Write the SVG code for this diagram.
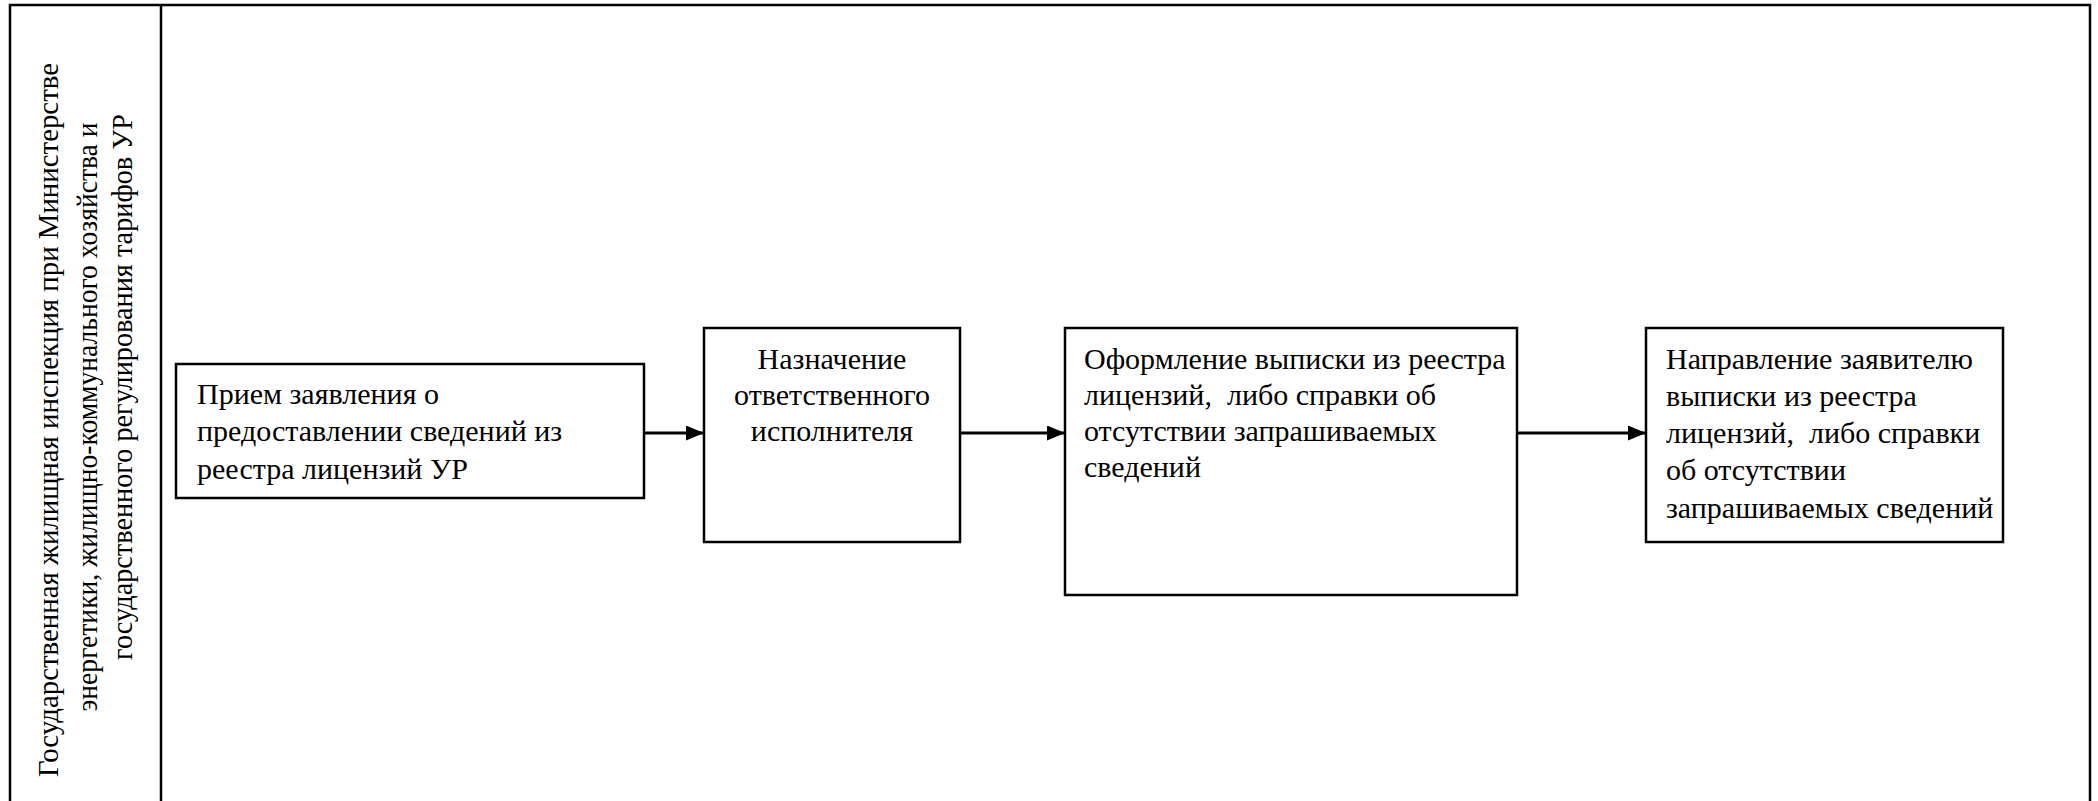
<svg xmlns="http://www.w3.org/2000/svg" width="2098" height="801" viewBox="0 0 2098 801">
<style>
.frame{fill:none;stroke:#000;stroke-width:2.5}
.box{fill:#fff;stroke:#000;stroke-width:2.5}
.conn{stroke:#000;stroke-width:3;fill:none}
.t{font-family:"Liberation Serif","Times New Roman",serif;font-size:30px;fill:#000}
</style>
<defs>
<marker id="ah" markerWidth="18" markerHeight="15" refX="18" refY="7.5" orient="auto" markerUnits="userSpaceOnUse">
<path d="M0,0 L18,7.5 L0,15 Z" fill="#000"/>
</marker>
</defs>
<rect width="2098" height="801" fill="#fff"/>
<g class="t">
<g id="lane">
<path class="frame" d="M10,805 V5 H2090 V805"/>
<line class="frame" x1="161" y1="5" x2="161" y2="805"/>
<text transform="translate(58,420) rotate(-90)" text-anchor="middle" textLength="714" lengthAdjust="spacingAndGlyphs">Государственная жилищная инспекция при Министерстве</text>
<text transform="translate(97,417) rotate(-90)" text-anchor="middle" textLength="589" lengthAdjust="spacingAndGlyphs">энергетики, жилищно-коммунального хозяйства и</text>
<text transform="translate(132,387) rotate(-90)" text-anchor="middle" textLength="546" lengthAdjust="spacingAndGlyphs">государственного регулирования тарифов УР</text>
</g>
<g id="n1">
<rect class="box" x="176" y="364" width="468" height="134"/>
<text x="197" y="404">Прием заявления о</text>
<text x="197" y="441">предоставлении сведений из</text>
<text x="197" y="479">реестра лицензий УР</text>
</g>
<g id="n2">
<rect class="box" x="704" y="328" width="256" height="214"/>
<text x="832" y="369" text-anchor="middle">Назначение</text>
<text x="832" y="405" text-anchor="middle">ответственного</text>
<text x="832" y="441" text-anchor="middle">исполнителя</text>
</g>
<g id="n3">
<rect class="box" x="1065" y="328" width="452" height="267"/>
<text x="1084" y="369">Оформление выписки из реестра</text>
<text x="1084" y="405" xml:space="preserve">лицензий,  либо справки об</text>
<text x="1084" y="441">отсутствии запрашиваемых</text>
<text x="1084" y="477">сведений</text>
</g>
<g id="n4">
<rect class="box" x="1646" y="328" width="357" height="214"/>
<text x="1666" y="369">Направление заявителю</text>
<text x="1666" y="406">выписки из реестра</text>
<text x="1666" y="443" xml:space="preserve">лицензий,  либо справки</text>
<text x="1666" y="480">об отсутствии</text>
<text x="1666" y="518">запрашиваемых сведений</text>
</g>
</g>
<g id="connectors">
<line class="conn" x1="644" y1="433" x2="704" y2="433" marker-end="url(#ah)"/>
<line class="conn" x1="960" y1="433" x2="1065" y2="433" marker-end="url(#ah)"/>
<line class="conn" x1="1517" y1="433" x2="1646" y2="433" marker-end="url(#ah)"/>
</g>
</svg>
